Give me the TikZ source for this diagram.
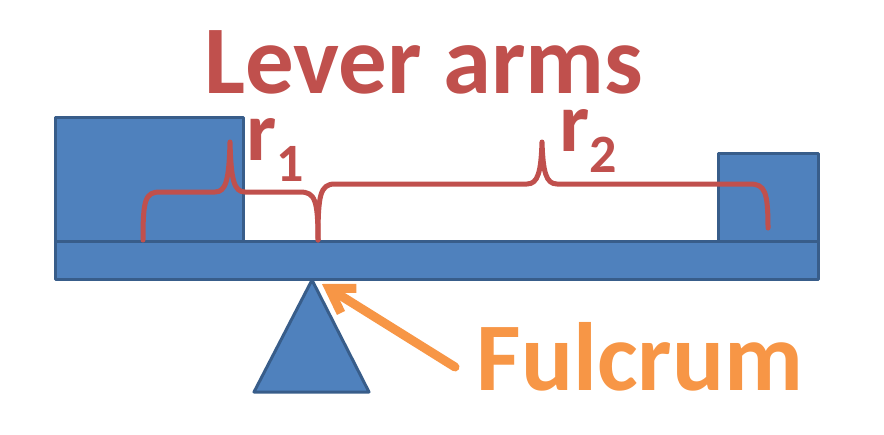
\documentclass[tikz,border=0pt]{standalone}
\usepackage{fontspec}
\setmainfont{Carlito}
\usetikzlibrary{arrows.meta,positioning,calc}
\definecolor{steel}{HTML}{4F81BD}
\definecolor{steeldark}{HTML}{385D8A}
\definecolor{brick}{HTML}{C0504D}
\definecolor{amber}{HTML}{F79646}

\begin{document}
\begin{tikzpicture}[x=1pt,y=-1pt,
        block/.style={draw=steeldark,fill=steel,line width=3pt,line join=round,
                      inner sep=0pt},
        brace/.style={draw=brick,line width=5pt,line cap=round,line join=round},
        title/.style={font=\bfseries\fontsize{97}{97}\selectfont,text=brick,
                      inner sep=0pt,anchor=base,text depth=0pt},
        arm/.style={font=\bfseries\fontsize{85}{85}\selectfont,text=brick,
                    inner sep=0pt,anchor=base west,text height=40pt}]
      \useasboundingbox (0,0) rectangle (884,434);
      % weights and beam
      \node[block,minimum width=188pt,minimum height=124pt] (load) at (149,179) {};
      \node[block,minimum width=100pt,minimum height=88pt] (effort) at (768,197) {};
      \coordinate (tail) at (455,367);
      \coordinate (pivot) at (312,280);
      \coordinate (tip) at (322,284);
      \draw[amber,line width=9pt,line cap=round,
            -{Straight Barb[length=23pt,width=29pt]}] (tail) -- (tip);
      \node[block,minimum width=763pt,minimum height=38pt] (beam) at (436.5,260) {};
      \draw[block] (pivot) -- (254,392) -- (369,392) -- cycle;
      % lever arm braces
      \draw[brace] (143,240) .. controls (143,200) and (145,192) .. (160,192)
        -- (215,192) .. controls (226,192) and (229,180) .. (230,142)
        .. controls (231,180) and (234,192) .. (245,192)
        -- (300,192) .. controls (315,192) and (318,200) .. (318,240);
      \draw[brace] (318,240) .. controls (318,195) and (320,184) .. (335,184)
        -- (527,184) .. controls (538,184) and (541,172) .. (542,142)
        .. controls (543,172) and (546,184) .. (557,184)
        -- (750,184) .. controls (765,184) and (768,192) .. (768,228);
      % labels
      \node[title] (heading) at (424,93) {Lever arms};
      \node[arm] (r1) at (246,160) {r\raisebox{-21pt}{\fontsize{54}{54}\selectfont 1}};
      \node[arm] (r2) at (559,151) {r\raisebox{-21pt}{\fontsize{54}{54}\selectfont 2}};
      \node[title,text=amber] (fulcrumlabel) at (640,390) {Fulcrum};
    \end{tikzpicture}
\end{document}
